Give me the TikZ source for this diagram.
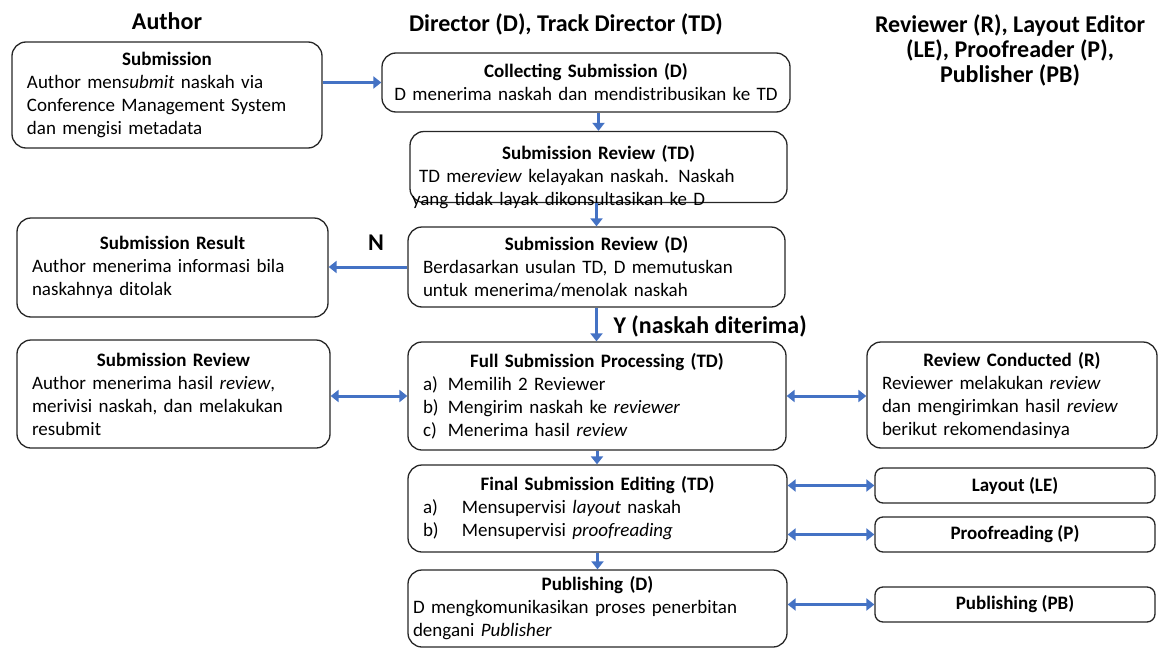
\documentclass[tikz,border=0pt]{standalone}
\usepackage{fontspec}
\setmainfont{Carlito}
\usetikzlibrary{arrows.meta}
\setlength{\parindent}{0pt}
\definecolor{flowblue}{RGB}{68,114,196}
\newcommand{\boxtitle}[1]{{\centering\bfseries #1\par}}
\newcommand{\lstitem}[3][25pt]{\makebox[#1][l]{#2}#3}

\begin{document}
\begin{tikzpicture}[x=1pt,y=-1pt]
    \tikzstyle{box} = [draw=black!85, line width=1.3pt, rounded corners=14pt, align=left, inner xsep=15pt, inner ysep=3pt, font=\fontsize{19}{23}\selectfont]
    \tikzstyle{small box} = [draw=black!85, line width=1.3pt, rounded corners=8pt, minimum width=280pt, minimum height=35pt, font=\fontsize{19}{23}\selectfont\bfseries]
    \tikzstyle{head} = [align=center, font=\fontsize{24}{25}\selectfont\bfseries]
    \tikzstyle{flow} = [draw=flowblue, line width=3pt, -{Triangle[width=12pt,length=8pt]}]
    \tikzstyle{both} = [draw=flowblue, line width=3pt, {Triangle[width=12pt,length=8pt]}-{Triangle[width=12pt,length=8pt]}]
    \useasboundingbox (0,0) rectangle (1163,648);

    \node[head](hauthor) at (167,21){Author};
    \node[head](hdir) at (566,24){Director (D), Track Director (TD)};
    \node[head](hrev) at (1010,50){Reviewer (R), Layout Editor\\(LE), Proofreader (P),\\Publisher (PB)};

    \node[box, text width=280pt, minimum height=106pt](sub) at (167,95){\boxtitle{Submission}Author men\textit{submit} naskah via\\Conference Management System\\dan mengisi metadata};
    \node[box, align=center, text width=400pt, minimum height=59pt, inner xsep=4pt, inner ysep=0pt](collect) at (586,82.5){\textbf{Collecting Submission (D)}\\D menerima naskah dan mendistribusikan ke TD};
    \node[box, text width=373pt, minimum height=71pt, inner xsep=2pt, inner ysep=0pt](revtd) at (598.5,167){\boxtitle{Submission Review (TD)}\hspace{7pt}TD me\textit{review} kelayakan naskah. Naskah\\yang tidak layak dikonsultasikan ke D\par\nointerlineskip\kern-20pt\hbox{}};
    \node[box, text width=281pt, minimum height=99pt](result) at (172.5,267.5){\boxtitle{Submission Result}Author menerima informasi bila\\naskahnya ditolak};
    \node[box, text width=347pt, minimum height=80pt](revd) at (596.5,267){\boxtitle{Submission Review (D)}Berdasarkan usulan TD, D memutuskan\\untuk menerima/menolak naskah};
    \node[box, text width=283pt, minimum height=108pt](revau) at (173.5,394){\boxtitle{Submission Review}Author menerima hasil \textit{review},\\merivisi naskah, dan melakukan\\resubmit};
    \node[box, text width=348pt, minimum height=108pt](full) at (597,396){\boxtitle{Full Submission Processing (TD)}\lstitem{a)}{Memilih 2 Reviewer}\\\lstitem{b)}{Mengirim naskah ke \textit{reviewer}}\\\lstitem{c)}{Menerima hasil \textit{review}}};
    \node[box, text width=260pt, minimum height=106pt](revr) at (1012,395){\boxtitle{Review Conducted (R)}Reviewer melakukan \textit{review}\\dan mengirimkan hasil \textit{review}\\berikut rekomendasinya};
    \node[box, text width=349pt, minimum height=87pt](final) at (597.5,508.5){\boxtitle{Final Submission Editing (TD)}\lstitem[39pt]{a)}{Mensupervisi \textit{layout} naskah}\\\lstitem[39pt]{b)}{Mensupervisi \textit{proofreading}}};
    \node[box, text width=369pt, minimum height=77pt, inner xsep=5pt](pubd) at (597.5,608.5){\boxtitle{Publishing (D)}D mengkomunikasikan proses penerbitan\\dengani \textit{Publisher}};
    \node[small box](layout) at (1015,485.5){Layout (LE)};
    \node[small box](proof) at (1015,534.5){Proofreading (P)};
    \node[small box](pubpb) at (1015,604.5){Publishing (PB)};

    \node[head](nlabel) at (376,243){N};
    \node[head, anchor=west](ylabel) at (610,326){Y (naskah diterima)};

    \draw[flow] (sub.east |- collect.west) -- (collect.west);
    \draw[flow] (revtd.north |- collect.south) -- (revtd.north);
    \draw[flow] (revd.north |- revtd.south) -- (revd.north);
    \draw[flow] (revd.west) -- (revd.west -| result.east);
    \draw[flow] (revd.south) -- (revd.south |- full.north);
    \draw[both] (revau.east |- full.west) -- (full.west);
    \draw[both] (full.east) -- (full.east -| revr.west);
    \draw[flow] (full.south) -- (full.south |- final.north);
    \draw[flow] (final.south) -- (final.south |- pubd.north);
    \draw[both] (layout.west -| final.east) -- (layout.west);
    \draw[both] (proof.west -| final.east) -- (proof.west);
    \draw[both] (pubpb.west -| pubd.east) -- (pubpb.west);
\end{tikzpicture}
\end{document}
